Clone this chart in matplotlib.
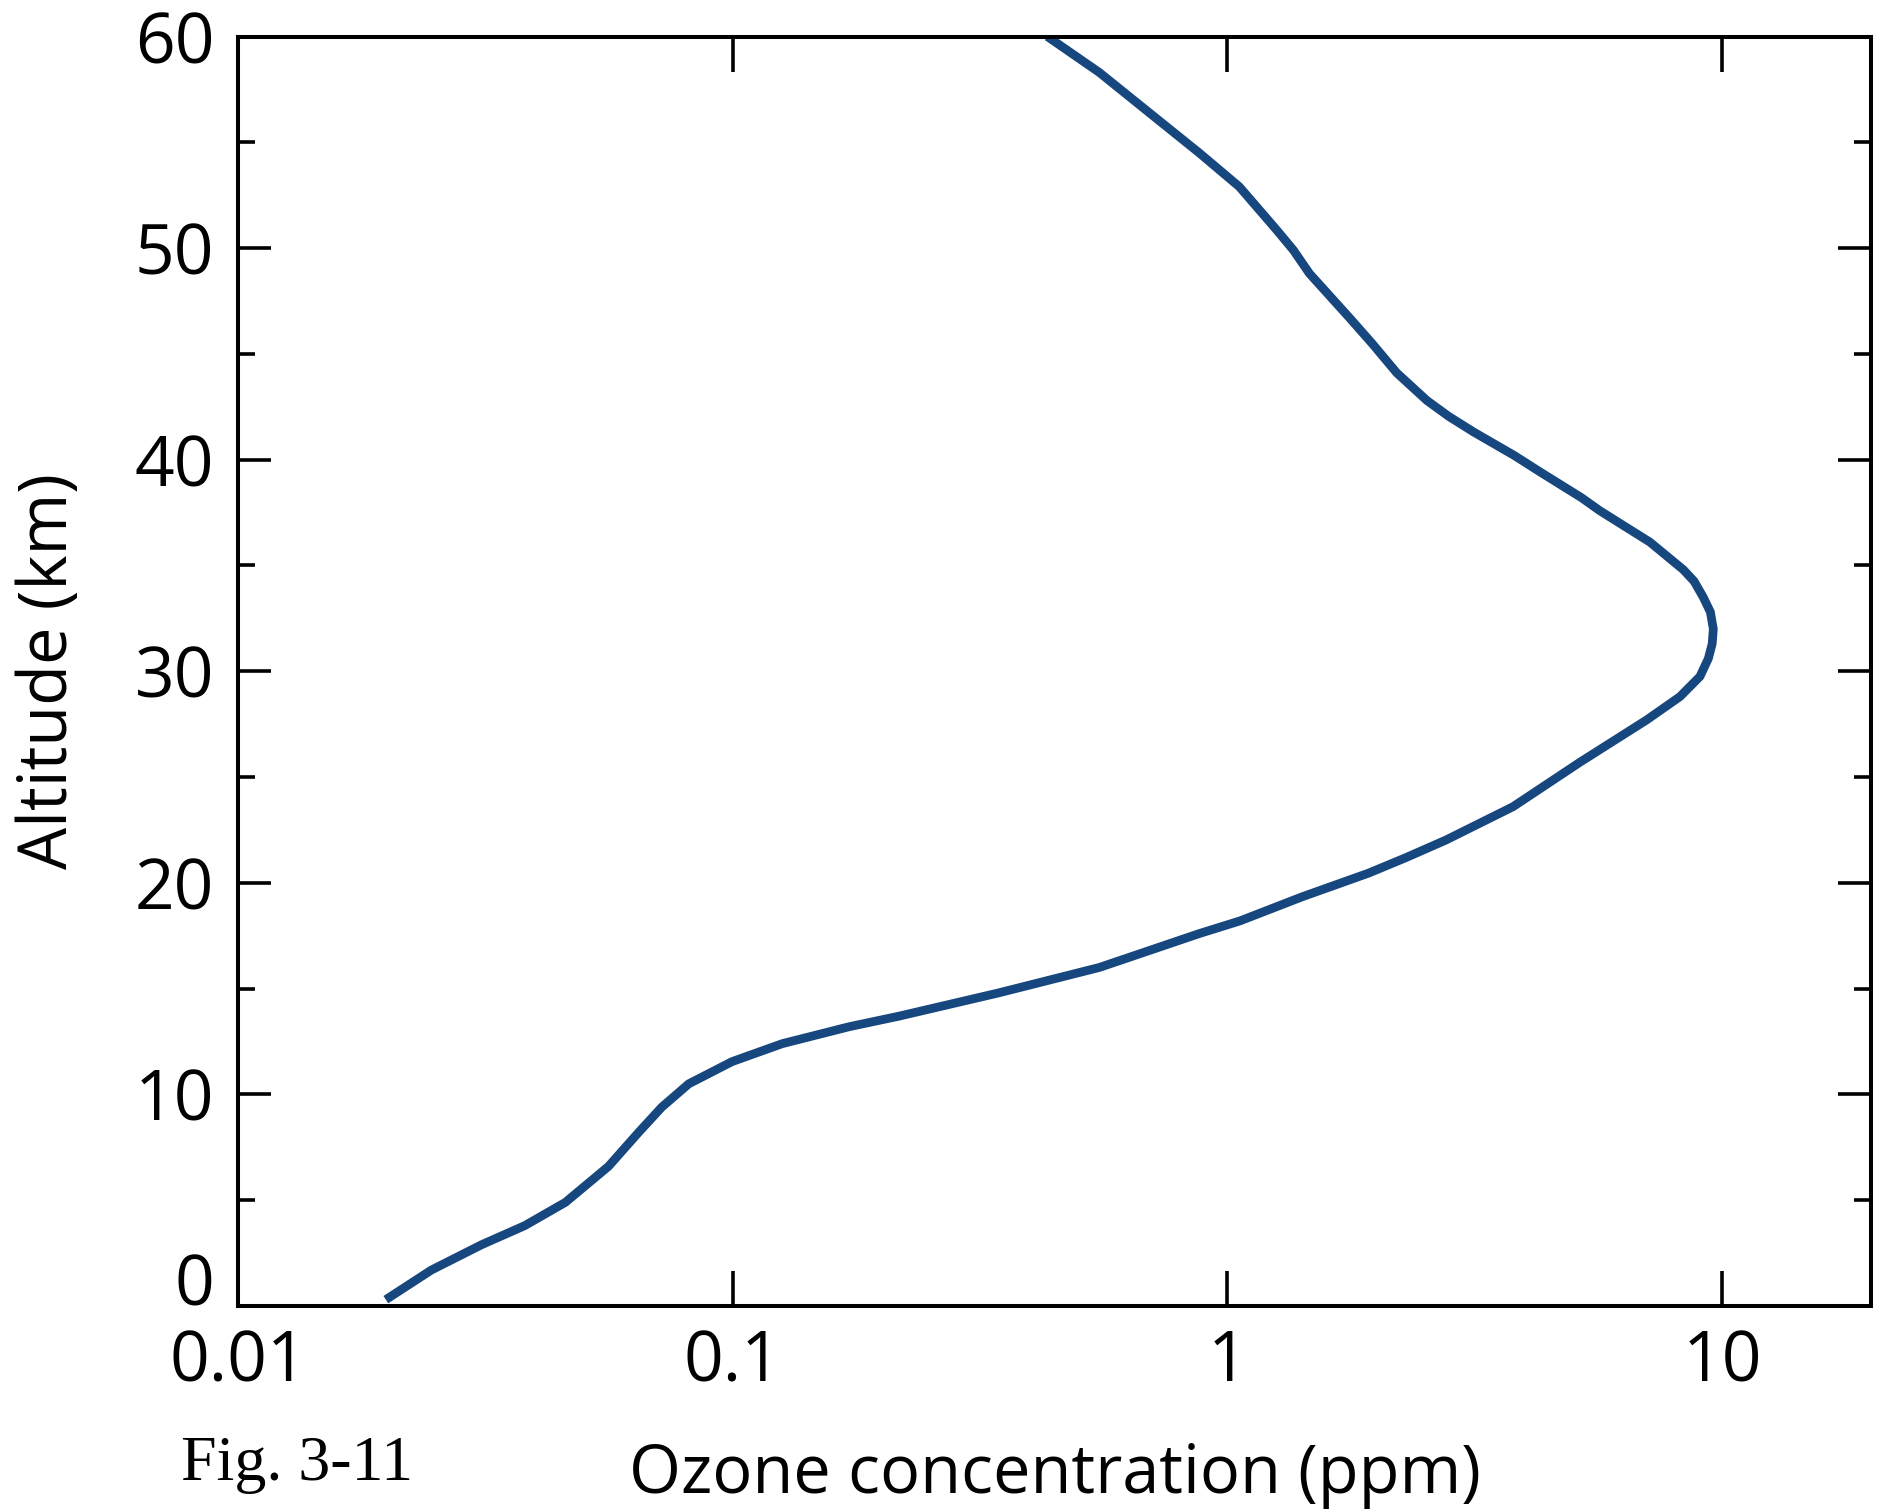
import matplotlib.pyplot as plt
import matplotlib.ticker as mticker

# ozone profile
altitude = [0.3, 1.7, 2.9, 3.8, 4.9, 6.6, 8.2, 9.4, 10.5, 11.55, 12.4, 13.2, 13.7,
            14.8, 16.0, 17.6, 18.2, 19.35, 20.46, 21.2, 22.03, 23.6, 25.7, 27.7,
            28.8, 29.75, 30.6, 31.3, 32.0, 32.8, 33.5, 34.25, 34.8, 36.1, 37.6,
            38.2, 39.4, 40.2, 41.3, 42.05, 42.8, 44.1, 45.5, 46.7, 48.8, 49.9,
            50.9, 52.9, 54.5, 56.4, 58.3, 60.0]
ozone = [0.0199, 0.0246, 0.0311, 0.0380, 0.0459, 0.0561, 0.0645, 0.0719, 0.0815,
         0.0997, 0.126, 0.172, 0.217, 0.345, 0.551, 0.877, 1.06, 1.42, 1.93, 2.3,
         2.77, 3.78, 5.16, 7.04, 8.22, 9.02, 9.38, 9.55, 9.6, 9.47, 9.16, 8.78,
         8.35, 7.15, 5.65, 5.2, 4.3, 3.8, 3.15, 2.8, 2.53, 2.2, 1.96, 1.766,
         1.465, 1.36, 1.253, 1.057, 0.877, 0.695, 0.551, 0.4325]

x_ticks = [0.01, 0.1, 1, 10]
x_labels = ['0.01', '0.1', '1', '10']
y_ticks = [0, 10, 20, 30, 40, 50, 60]

plt.rcParams['font.family'] = ['Open Sans', 'DejaVu Sans']

fig = plt.figure(figsize=(18.87, 15.12), dpi=100)
ax = fig.add_axes([238 / 1887, 1 - 1306 / 1512, 1633 / 1887, 1269.5 / 1512])

ax.plot(ozone, altitude, color='#17477f', lw=6.3, solid_capstyle='butt', solid_joinstyle='round')

ax.set_xscale('log')
ax.set_xlim(0.01, 20)
ax.set_ylim(0, 60)

ax.xaxis.set_major_locator(mticker.FixedLocator(x_ticks))
ax.xaxis.set_major_formatter(mticker.FixedFormatter(x_labels))
ax.xaxis.set_minor_locator(mticker.NullLocator())
ax.set_yticks(y_ticks)
ax.yaxis.set_minor_locator(mticker.MultipleLocator(5))

for s in ax.spines.values():
    s.set_linewidth(2.9)

ax.tick_params(which='both', direction='in', top=True, right=True, width=2.6, labelsize=50)
ax.tick_params(axis='x', which='major', length=25, pad=16)
ax.tick_params(axis='y', which='major', length=24, pad=17)
ax.tick_params(axis='y', which='minor', length=12)

# the "0" on the y axis sits above its tick
for lab in ax.get_yticklabels():
    if lab.get_text() == '0':
        lab.set_va('baseline')

ax.set_xlabel('Ozone concentration (ppm)', fontsize=48, va='baseline')
ax.xaxis.set_label_coords(0.5, -187 / 1269.5)
ax.set_ylabel('Altitude (km)', fontsize=48, va='baseline')
ax.yaxis.set_label_coords(-171 / 1633, 0.5)

fig.text(181 / 1887, 1 - 1480 / 1512, 'Fig. 3-11', fontsize=46, family='Liberation Serif',
         va='baseline', ha='left')

fig.savefig('out.png', dpi=100)
